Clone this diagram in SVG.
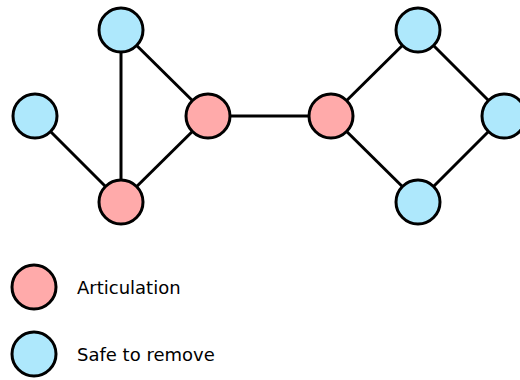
<svg xmlns="http://www.w3.org/2000/svg" width="520" height="380" viewBox="0 0 520 380">
<style>
.e{stroke:#000;stroke-width:3;fill:none}
.n{stroke:#000;stroke-width:3}
.art{fill:#ffaaaa}
.safe{fill:#aee8fc}
text{font-family:"DejaVu Sans",sans-serif;font-size:18px;fill:#000}
</style>
<rect width="520" height="380" fill="#fff"/>
<g id="edges">
<line class="e" x1="121" y1="30" x2="121" y2="202"/>
<line class="e" x1="121" y1="30" x2="208" y2="116"/>
<line class="e" x1="35" y1="116" x2="121" y2="202"/>
<line class="e" x1="121" y1="202" x2="208" y2="116"/>
<line class="e" x1="208" y1="116" x2="331" y2="116"/>
<line class="e" x1="331" y1="116" x2="418" y2="30"/>
<line class="e" x1="331" y1="116" x2="418" y2="202"/>
<line class="e" x1="418" y1="30" x2="504" y2="116"/>
<line class="e" x1="418" y1="202" x2="504" y2="116"/>
</g>
<g id="n1"><circle class="n safe" cx="121" cy="30" r="22"/></g>
<g id="n2"><circle class="n safe" cx="35" cy="116" r="22"/></g>
<g id="n3"><circle class="n art" cx="208" cy="116" r="22"/></g>
<g id="n4"><circle class="n art" cx="121" cy="202" r="22"/></g>
<g id="n5"><circle class="n art" cx="331" cy="116" r="22"/></g>
<g id="n6"><circle class="n safe" cx="418" cy="30" r="22"/></g>
<g id="n7"><circle class="n safe" cx="504" cy="116" r="22"/></g>
<g id="n8"><circle class="n safe" cx="418" cy="202" r="22"/></g>
<g id="legend">
<circle class="n art" cx="34" cy="287" r="22"/>
<text x="77" y="294">Articulation</text>
<circle class="n safe" cx="34" cy="354" r="22"/>
<text x="77" y="361">Safe to remove</text>
</g>
</svg>
